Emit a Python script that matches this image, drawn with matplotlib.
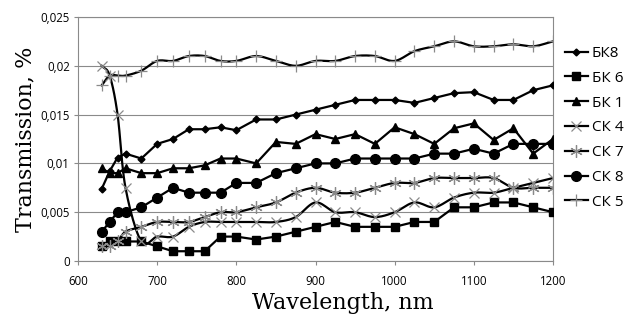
import numpy as np
import matplotlib
matplotlib.use("Agg")
import matplotlib.pyplot as plt
from matplotlib.lines import Line2D

wavelength = [630, 640, 650, 660, 680, 700, 720, 740, 760, 780, 800, 825, 850, 875,
              900, 925, 950, 975, 1000, 1025, 1050, 1075, 1100, 1125, 1150, 1175, 1200]

bk8 = [0.0074, 0.0092, 0.0106, 0.011, 0.0105, 0.0120, 0.0125, 0.0135, 0.0135, 0.0137, 0.0134, 0.0145, 0.0145,
       0.0150, 0.0155, 0.0160, 0.0165, 0.0165, 0.0165, 0.0162, 0.0167, 0.0172, 0.0173, 0.0165, 0.0165, 0.0175, 0.0180]
bk6 = [0.0015, 0.002, 0.002, 0.002, 0.002, 0.0015, 0.001, 0.001, 0.001, 0.0025, 0.0025, 0.0022, 0.0025,
       0.003, 0.0035, 0.004, 0.0035, 0.0035, 0.0035, 0.004, 0.004, 0.0055, 0.0055, 0.006, 0.006, 0.0055, 0.005]
bk1 = [0.0095, 0.009, 0.009, 0.0095, 0.009, 0.009, 0.0095, 0.0095, 0.0098, 0.0105, 0.0105, 0.0100, 0.0122,
       0.0120, 0.0130, 0.0125, 0.0130, 0.0120, 0.0137, 0.0130, 0.0120, 0.0136, 0.0141, 0.0124, 0.0136, 0.0110, 0.0125]
ck4 = [0.020, 0.019, 0.015, 0.0075, 0.002, 0.0025, 0.0025, 0.0035, 0.004, 0.004, 0.004, 0.004, 0.004,
       0.0045, 0.006, 0.005, 0.005, 0.0045, 0.005, 0.006, 0.0055, 0.0065, 0.007, 0.007, 0.0075, 0.008, 0.0085]
ck7 = [0.0015, 0.0015, 0.002, 0.003, 0.0035, 0.004, 0.004, 0.004, 0.0045, 0.005, 0.005, 0.0055, 0.006,
       0.007, 0.0075, 0.007, 0.007, 0.0075, 0.008, 0.008, 0.0085, 0.0085, 0.0085, 0.0085, 0.0075, 0.0075, 0.0075]
ck8 = [0.003, 0.004, 0.005, 0.005, 0.0055, 0.0065, 0.0075, 0.007, 0.007, 0.007, 0.008, 0.008, 0.009,
       0.0095, 0.010, 0.010, 0.0105, 0.0105, 0.0105, 0.0105, 0.011, 0.011, 0.0115, 0.011, 0.012, 0.012, 0.012]
ck5 = [0.018, 0.019, 0.019, 0.019, 0.0195, 0.0205, 0.0205, 0.021, 0.021, 0.0205, 0.0205, 0.021, 0.0205,
       0.020, 0.0205, 0.0205, 0.021, 0.021, 0.0205, 0.0215, 0.022, 0.0225, 0.022, 0.022, 0.0222, 0.022, 0.0225]

labels = ["БК8", "БК 6", "БК 1", "СК 4", "СК 7", "СК 8", "СК 5"]
yticks = [0, 0.005, 0.01, 0.015, 0.02, 0.025]
ytick_labels = ["0", "0,005", "0,01", "0,015", "0,02", "0,025"]
xticks = [600, 700, 800, 900, 1000, 1100, 1200]


def smooth(x, y, n=12):
    x = np.asarray(x, float)
    y = np.asarray(y, float)
    px = np.concatenate([[2 * x[0] - x[1]], x, [2 * x[-1] - x[-2]]])
    py = np.concatenate([[2 * y[0] - y[1]], y, [2 * y[-1] - y[-2]]])
    xs, ys = [], []
    t = np.linspace(0, 1, n, endpoint=False)
    for i in range(1, len(px) - 2):
        for arr, out in ((px, xs), (py, ys)):
            p0, p1, p2, p3 = arr[i - 1], arr[i], arr[i + 1], arr[i + 2]
            out.extend(0.5 * ((2 * p1) + (-p0 + p2) * t + (2 * p0 - 5 * p1 + 4 * p2 - p3) * t ** 2
                              + (-p0 + 3 * p1 - 3 * p2 + p3) * t ** 3))
    xs.append(x[-1])
    ys.append(y[-1])
    return np.array(xs), np.array(ys)


fig = plt.figure(figsize=(6.29, 3.21), dpi=100)
ax = fig.add_axes([78 / 629, 1 - 261 / 321, (553 - 78) / 629, (261 - 17) / 321])

lw = 1.6
grey = "#8a8a8a"
ax.plot(wavelength, bk8, color="black", lw=lw, marker="D", ms=3.5, zorder=3)
ax.plot(wavelength, bk6, color="black", lw=lw, marker="s", ms=6, zorder=3)
ax.plot(wavelength, bk1, color="black", lw=lw, marker="^", ms=6, zorder=3)
ax.plot(wavelength, ck8, color="black", lw=lw, marker="o", ms=7, zorder=3)
for ys_, mk, ms in ((ck4, "x", 7), (ck7, (6, 2, 0), 9), (ck5, "+", 8)):
    sx, sy = smooth(wavelength, ys_)
    ax.plot(sx, sy, color="black", lw=lw, zorder=3)
    ax.plot(wavelength, ys_, ls="none", marker=mk, ms=ms, mec=grey, mew=0.9, zorder=4)

ax.set_xlim(600, 1200)
ax.set_ylim(0, 0.025)
ax.set_xticks(xticks)
ax.set_yticks(yticks)
ax.set_yticklabels(ytick_labels)
for lab in ax.get_xticklabels() + ax.get_yticklabels():
    lab.set_fontfamily(["Open Sans", "DejaVu Sans"])
    lab.set_fontsize(8.3)
ax.tick_params(axis="both", direction="out", length=3, color=grey, width=0.8, pad=3)
ax.tick_params(axis="x", pad=7)
ax.yaxis.grid(True, color=grey, lw=0.8)
ax.set_axisbelow(True)
for s in ax.spines.values():
    s.set_color(grey)
    s.set_linewidth(0.8)

ax.set_xlabel("Wavelength, nm", family="DejaVu Serif", fontsize=16)
ax.xaxis.set_label_coords(0.558, -0.125, transform=ax.transAxes)
ax.xaxis.label.set_va("top")
ax.set_ylabel("Transmission, %", family="DejaVu Serif", fontsize=16, labelpad=3,
              bbox=dict(facecolor="white", edgecolor="none", pad=1))

handles = [
    Line2D([], [], color="black", lw=lw, marker="D", ms=3.5),
    Line2D([], [], color="black", lw=lw, marker="s", ms=6),
    Line2D([], [], color="black", lw=lw, marker="^", ms=6),
    Line2D([], [], color="black", lw=lw, marker="x", ms=7, mec=grey, mew=0.9),
    Line2D([], [], color="black", lw=lw, marker=(6, 2, 0), ms=9, mec=grey, mew=0.9),
    Line2D([], [], color="black", lw=lw, marker="o", ms=7),
    Line2D([], [], color="black", lw=lw, marker="+", ms=8, mec=grey, mew=0.9),
]
fig.legend(handles, labels, loc="upper left", bbox_to_anchor=(565 / 629, 1 - 46 / 321),
           frameon=False, prop=dict(family=["Open Sans", "DejaVu Sans"], size=11),
           handlelength=1.5, handletextpad=0.25, labelspacing=0.64, borderaxespad=0, borderpad=0)

fig.savefig("out.png", dpi=100)
